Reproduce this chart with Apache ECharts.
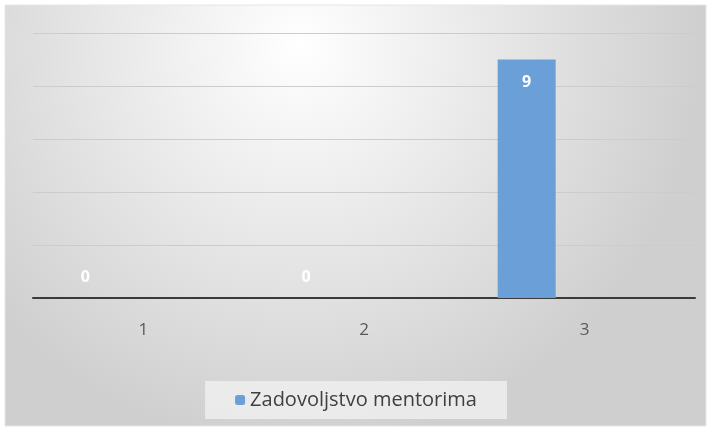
<!DOCTYPE html>
<html>
<head>
<meta charset="utf-8">
<script src="https://cdn.jsdelivr.net/npm/echarts@6/dist/echarts.min.js"></script>
<style>
  html, body { margin: 0; padding: 0; background: #fff; }
  #chart-container { width: 712px; height: 432px; }
</style>
</head>
<body>
<div id="chart-container"></div>
<script>
var dom = document.getElementById('chart-container');
var myChart = echarts.init(dom, null, { renderer: 'canvas' });

var categories = ['1', '2', '3'];
var seriesName = 'Zadovoljstvo mentorima';
var values = [0, 0, 9];

var font = '"Open Sans", Lato, sans-serif';

var option = {
  backgroundColor: '#fff',
  textStyle: { fontFamily: font },
  graphic: [{
    type: 'rect',
    z: -10,
    silent: true,
    shape: { x: 5, y: 5, width: 701, height: 421 },
    style: {
      fill: new echarts.graphic.RadialGradient(0.42, 0.1, 0.95, [
        { offset: 0, color: '#ffffff' },
        { offset: 1, color: '#cfcfcf' }
      ]),
      stroke: '#e6e6e6',
      lineWidth: 1
    }
  }],
  legend: {
    data: [seriesName],
    bottom: 13,
    left: 'center',
    itemWidth: 10,
    itemHeight: 10,
    itemGap: 4,
    padding: [9, 30, 9, 30],
    backgroundColor: 'rgba(238,238,238,0.85)',
    textStyle: { fontSize: 20, color: '#404040', fontFamily: font }
  },
  grid: { left: 33, right: 17, top: 33, bottom: 134, containLabel: false },
  xAxis: {
    type: 'category',
    data: categories,
    axisLine: { lineStyle: { color: '#3a3a3a', width: 2 } },
    axisTick: { show: false },
    axisLabel: { fontSize: 17, color: '#595959', margin: 24, fontFamily: font }
  },
  yAxis: {
    type: 'value',
    min: 0,
    max: 10,
    interval: 2,
    axisLabel: { show: false },
    axisLine: { show: false },
    axisTick: { show: false },
    splitLine: { lineStyle: { color: '#cccccc', width: 1 } }
  },
  series: [
    {
      name: seriesName,
      type: 'bar',
      barWidth: 58,
      barGap: '0%',
      itemStyle: { color: '#6a9fd8' },
      label: {
        show: true,
        position: 'insideTop',
        distance: 15,
        color: '#ffffff',
        fontWeight: 'bold',
        fontSize: 16,
        fontFamily: font
      },
      data: values.map(function (v) {
        if (v === 0) {
          return { value: v, label: { position: 'top', distance: 13 } };
        }
        return v;
      })
    },
    { name: 'pad1', type: 'bar', barWidth: 58, data: ['-', '-', '-'] },
    { name: 'pad2', type: 'bar', barWidth: 58, data: ['-', '-', '-'] }
  ]
};

myChart.setOption(option);
window.addEventListener('resize', myChart.resize);
</script>
</body>
</html>
